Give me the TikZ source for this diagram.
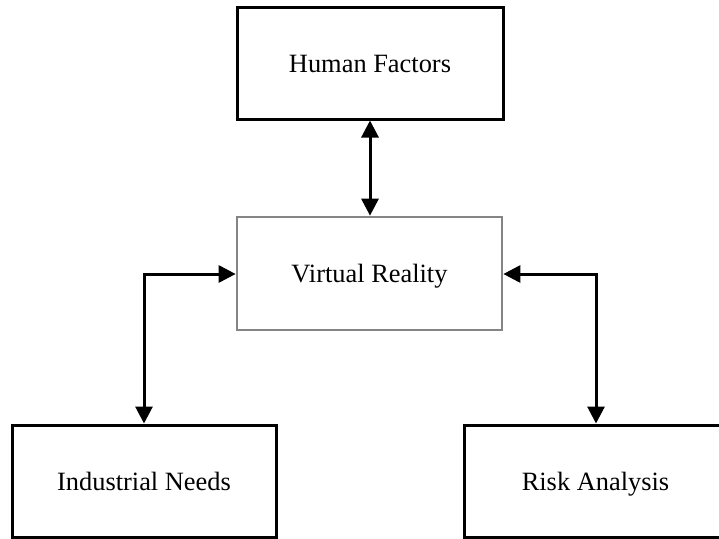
\documentclass[tikz,border=0pt]{standalone}
\usepackage{fontspec}
\setmainfont{Liberation Serif}
\usetikzlibrary{arrows.meta}

\tikzset{
  topicbox/.style={draw=black, line width=3pt, fill=white, rectangle,
    inner sep=0pt, minimum width=264pt, minimum height=112pt,
    text height=18pt, text depth=0pt,
    font=\fontsize{26.4}{30}\selectfont},
  corebox/.style={topicbox, draw=black!48, line width=2.7pt,
    minimum width=265pt, minimum height=113pt},
  link/.style={line width=3pt,
    {Triangle[length=17pt,width=17pt]}-{Triangle[length=17pt,width=17pt]}}
}

\begin{document}
\begin{tikzpicture}[x=1pt, y=-1pt]
  \useasboundingbox (0,0) rectangle (719,538);
  \clip (0,0) rectangle (719,538);
  \fill[white] (0,0) rectangle (719,538);

  \node[topicbox, minimum width=266pt] (hf) at (370,63) {Human Factors};
  \node[corebox] (vr) at (369.5,273.5) {Virtual Reality};
  \node[topicbox] (in) at (144,481) {Industrial Needs};
  \node[topicbox, minimum width=263pt] (ra) at (595.5,481) {Risk Analysis};

  \coordinate (lc) at (144,274);
  \coordinate (rc) at (596,274);

  \draw[link] (hf.south -| 370,0) -- (vr.north -| 370,0);
  \draw[link] (vr.west |- lc) -- (lc) -- (in.north -| lc);
  \draw[link] (vr.east |- rc) -- (rc) -- (ra.north -| rc);
\end{tikzpicture}
\end{document}
